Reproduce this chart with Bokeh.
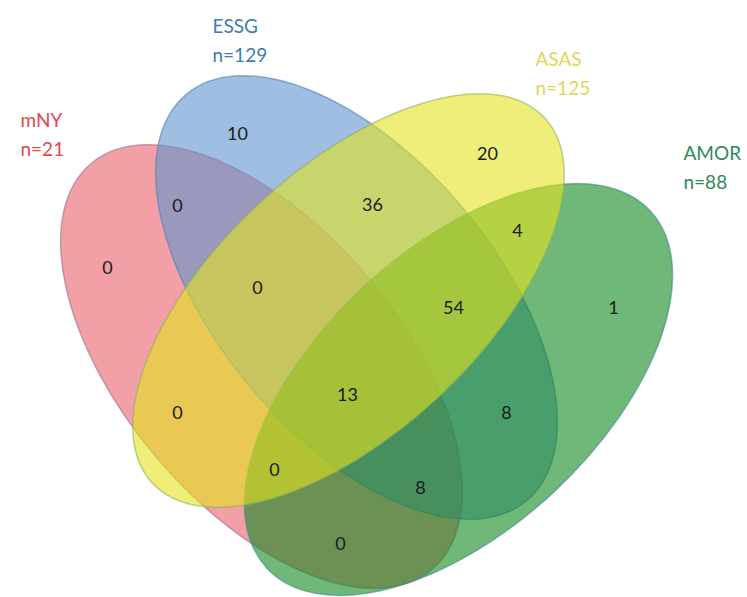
from bokeh.plotting import figure
from bokeh.models import Range1d, ColumnDataSource
from bokeh.core.properties import value
from bokeh.embed import file_html
from bokeh.resources import INLINE
import math

# ---------------- data ----------------
set_names = ["mNY", "ESSG", "ASAS", "AMOR"]
set_sizes = [21, 129, 125, 88]

region_sets = [
    "ESSG", "mNY&ESSG", "mNY", "ESSG&ASAS", "ASAS", "ASAS&AMOR",
    "mNY&ESSG&ASAS", "ESSG&ASAS&AMOR", "AMOR", "mNY&ASAS",
    "mNY&ESSG&ASAS&AMOR", "ESSG&AMOR", "mNY&ASAS&AMOR", "mNY&ESSG&AMOR", "mNY&AMOR",
]
region_counts = [10, 0, 0, 36, 20, 4, 0, 54, 1, 0, 13, 8, 0, 8, 0]

# ---------------- layout (page pixel coordinates, y downward) ----------------
W, H = 747, 597
def Y(py):
    return H - py

# ellipse geometry: centre x, centre y, semi-major, semi-minor, screen angle (deg, + = up-right)
ell_geom = {
    "mNY":  (261, 366, 265, 139, -50),
    "ESSG": (356, 297, 265, 139, -50),
    "AMOR": (458, 389, 262, 140, 43),
    "ASAS": (348, 300, 268, 132, 43),
}
ell_fill = {"mNY": "#E9616A", "ESSG": "#6193CD", "ASAS": "#E3E31E", "AMOR": "#11891E"}
ell_line = {"mNY": "#9A7090", "ESSG": "#5080B0", "ASAS": "#90B060", "AMOR": "#3C8C90"}
draw_order = ["mNY", "ESSG", "AMOR", "ASAS"]

region_pos = [
    (237, 133), (177, 205), (107, 267), (372, 204), (487, 153), (517, 230),
    (257, 287), (453, 307), (613, 307), (177, 412), (347, 394), (506, 412),
    (274, 469), (420, 487), (340, 543),
]

label_pos = {"mNY": (20, 119), "ESSG": (212, 25), "ASAS": (535, 58), "AMOR": (683, 152)}
label_col = {"mNY": "#E0474F", "ESSG": "#3E7BB5", "ASAS": "#E2D65A", "AMOR": "#2E8B57"}

p = figure(width=W, height=H, output_backend="svg", toolbar_location=None,
           x_range=Range1d(0, W), y_range=Range1d(0, H), min_border=0)
p.axis.visible = False
p.grid.visible = False
p.outline_line_color = None
p.background_fill_color = "white"
p.border_fill_color = "white"

for name in draw_order:
    cx, cy, a, b, ang = ell_geom[name]
    p.ellipse(x=[cx], y=[Y(cy)], width=[2 * a], height=[2 * b], angle=[math.radians(ang)],
              fill_color=ell_fill[name], fill_alpha=0.6,
              line_color=ell_line[name], line_alpha=0.6, line_width=1.5)

src = ColumnDataSource(dict(
    x=[pp[0] for pp in region_pos],
    y=[Y(pp[1]) for pp in region_pos],
    t=[str(c) for c in region_counts],
))
p.text(x="x", y="y", text="t", source=src, text_align="center", text_baseline="middle",
       text_font=value("Lato"), text_font_size="18px", text_color="#1a1a1a")

for name, n in zip(set_names, set_sizes):
    lx, ly = label_pos[name]
    p.text(x=[lx, lx], y=[Y(ly), Y(ly + 29)], text=[name, "n=%d" % n],
           text_align="left", text_baseline="middle",
           text_font=value("Lato"), text_font_size="19px", text_color=label_col[name])

open("out.html", "w").write(file_html(p, INLINE))
